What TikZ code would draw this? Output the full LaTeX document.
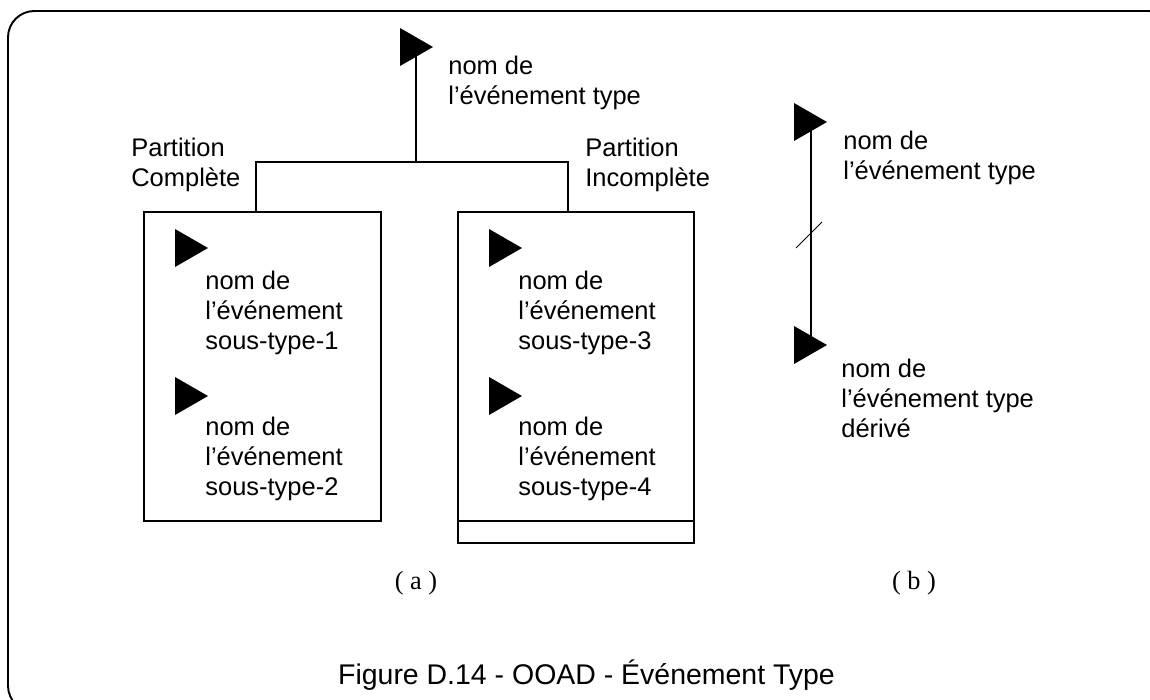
\documentclass[tikz,border=0pt]{standalone}
\usepackage{fontspec}
\setmainfont{Liberation Sans}
\newfontfamily\parenfont{Liberation Serif}
\usetikzlibrary{calc,positioning}

\tikzset{
  lbl/.style={anchor=north west, align=left, inner sep=0pt,
    font=\fontsize{14.5}{17}\selectfont},
  trait/.style={line width=0.6pt},
  cadre/.style={line width=0.6pt},
}
\newcommand{\evflag}[1]{\fill (#1) -- ++(33,19) -- ++(-33,19) -- cycle;}

\begin{document}
\begin{tikzpicture}[x=0.02cm, y=-0.02cm]
  \useasboundingbox (0,0) rectangle (1150,700);
  \clip (0,0) rectangle (1150,700);
  % Outer frame
  \draw[line width=1.1pt, rounded corners=15] (8,11) rectangle (1175,712);

  % Define points
  \coordinate (ev) at (400,28);
  \coordinate (pole) at (416,47);
  \coordinate (boxA) at (256,212);
  \coordinate (boxB) at (568,212);
  \coordinate (sub1) at (175,229);
  \coordinate (sub2) at (175,377);
  \coordinate (sub3) at (489,229);
  \coordinate (sub4) at (489,377);
  \coordinate (evb) at (794,103);
  \coordinate (evd) at (794,326);

  % (a) partitions
  \draw[trait] (pole) -- (416,162) coordinate (fork);
  \draw[trait] (boxA) |- (fork) -| (boxB);
  \draw[cadre] (144,212) rectangle (381,521);
  \draw[cadre] (458,212) rectangle (694,543);
  \draw[cadre] (458,521) coordinate (sep) -- (694,521);
  \evflag{ev}
  \evflag{sub1}
  \evflag{sub2}
  \evflag{sub3}
  \evflag{sub4}
  \node[lbl] (evt) at (448,55.5) {nom de\\l'événement type};
  \node[lbl] (pc) at (131,137.5) {Partition\\Complète};
  \node[lbl] (pi) at (585,137.5) {Partition\\Incomplète};
  \node[lbl] (t1) at (205,270.5) {nom de\\l'événement\\sous-type-1};
  \node[lbl] (t2) at (205,416.5) {nom de\\l'événement\\sous-type-2};
  \node[lbl] (t3) at (518,270.5) {nom de\\l'événement\\sous-type-3};
  \node[lbl] (t4) at (518,416.5) {nom de\\l'événement\\sous-type-4};

  % (b) derived event type
  \draw[trait] ($(evb)+(17,19)$) -- ($(evd)+(17,19)$);
  \draw[line width=0.5pt] (796,248) -- (822,222);
  \evflag{evb}
  \evflag{evd}
  \node[lbl] (tb) at (843,130.5) {nom de\\l'événement type};
  \node[lbl] (td) at (841,358.5) {nom de\\l'événement type\\dérivé};

  % Captions
  \node[font=\parenfont\fontsize{15}{17}\selectfont] (ca) at (416,583) {( a )};
  \node[font=\parenfont\fontsize{15}{17}\selectfont] (cb) at (914,583) {( b )};
  \node[anchor=base, font=\fontsize{16.2}{19}\selectfont] (fig) at (586.5,684)
    {Figure D.14 - OOAD - Événement Type};
\end{tikzpicture}
\end{document}
